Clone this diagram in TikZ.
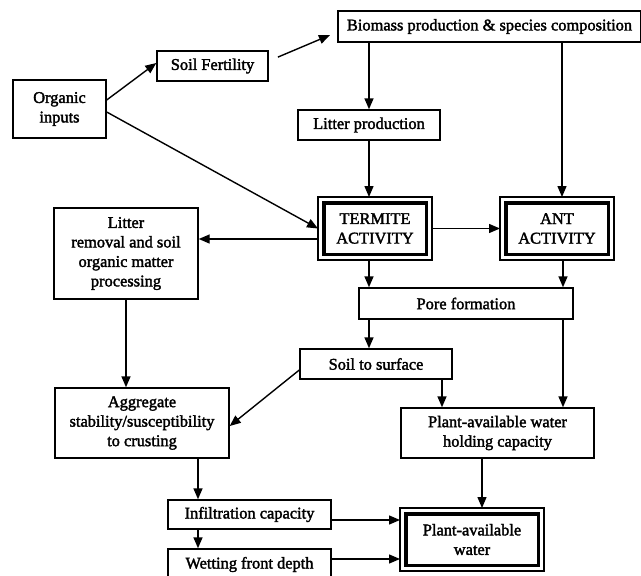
\documentclass[tikz,border=0pt]{standalone}
\usepackage{fontspec}
\setmainfont{Liberation Serif}
\newfontfamily\boxfont{Liberation Serif}[FakeBold=2]
\usetikzlibrary{arrows.meta}

\tikzset{
  box/.style={draw, line width=1.4pt, inner sep=0pt, align=center,
    font=\boxfont\fontsize{16.4}{19.5}\selectfont},
  keybox/.style={box, line width=3.5pt},
}

\begin{document}
\begin{tikzpicture}[x=1pt, y=-1pt, >={Triangle[length=11pt,width=9pt]}, line width=1.4pt]
    \useasboundingbox (0,0) rectangle (641,576);

    % Hộp phía trên
    \node[box, minimum width=93pt, minimum height=58pt] (organic) at (59.5,109) {Organic\\inputs};
    \node[box, minimum width=111pt, minimum height=30pt] (fert) at (212.5,66) {Soil Fertility};
    \node[box, minimum width=303pt, minimum height=31pt] (biomass) at (489.5,26.5) {Biomass production \& species composition};
    \node[box, minimum width=142pt, minimum height=30pt] (litprod) at (369,125) {Litter production};

    % Hoạt động của mối và kiến
    \node[keybox, minimum width=102.5pt, minimum height=51.5pt] (termite) at (375,228.5) {TERMITE\\ACTIVITY};
    \node[keybox, minimum width=102.5pt, minimum height=51.5pt] (ant) at (557,228.5) {ANT\\ACTIVITY};
    \node[box, minimum width=144pt, minimum height=91pt] (litrem) at (126,253.5) {Litter\\removal and soil\\organic matter\\processing};

    % Hộp ở giữa
    \node[box, minimum width=214pt, minimum height=31pt] (pore) at (466,303.5) {Pore formation};
    \node[box, minimum width=152pt, minimum height=30pt] (surface) at (376,364) {Soil to surface};
    \node[box, minimum width=174pt, minimum height=70pt] (aggr) at (142,423) {Aggregate\\stability/susceptibility\\to crusting};
    \node[box, minimum width=193pt, minimum height=50pt] (pawhc) at (497.5,433) {Plant-available water\\holding capacity};

    % Hộp phía dưới
    \node[box, minimum width=163pt, minimum height=29pt] (infil) at (249.5,514.5) {Infiltration capacity};
    \node[box, minimum width=163pt, minimum height=31pt] (wet) at (249.5,564.5) {Wetting front depth};
    \node[keybox, minimum width=132.5pt, minimum height=51.5pt] (water) at (472,539.5) {Plant-available\\water};

    % Viền ngoài của hộp đôi
    \foreach \n in {termite, ant, water}
        \draw[line width=1.5pt] ([shift={(-4,-4)}]\n.north west) rectangle ([shift={(4,4)}]\n.south east);

    % Mũi tên
    \draw[->] ([yshift=9]organic.east) -- ([yshift=3]fert.west);
    \draw[->, shorten <=10pt, shorten >=8pt] ([yshift=5]fert.east) -- ([yshift=-5.5]biomass.west);
    \draw[->] ([yshift=-3]organic.east) -- ([xshift=-4]termite.west);
    \draw[->] (biomass.south -| litprod.north) -- (litprod.north);
    \draw[->] ([xshift=5]biomass.south -| ant.north) -- ([xshift=5,yshift=4]ant.north);
    \draw[->] (litprod.south) -- ([yshift=4]litprod.south |- termite.north);
    \draw[->] ([xshift=4]termite.east) -- ([xshift=-4]ant.west);
    \draw[->] ([xshift=-4,yshift=-10.5]termite.west) -- ([yshift=-10.5]termite.west -| litrem.east);
    \draw[->] ([yshift=-4]termite.south -| litprod) -- (pore.north -| litprod);
    \draw[->] ([xshift=6,yshift=-4]ant.south) -- ([xshift=6]ant.south |- pore.north);
    \draw[->] (pore.south -| litprod) -- (surface.north -| litprod);
    \draw[->] ([xshift=97]pore.south) -- ([xshift=97]pore.south |- pawhc.north);
    \draw[->] ([xshift=66]surface.south) -- ([xshift=66]surface.south |- pawhc.north);
    \draw[->] ([yshift=-6]surface.west) -- ([yshift=-3]aggr.east);
    \draw[->] (litrem.south) -- (litrem.south |- aggr.north);
    \draw[->] ([xshift=-15.5]pawhc.south) -- ([xshift=-15.5,yshift=4]pawhc.south |- water.north);
    \draw[->] ([xshift=56]aggr.south) -- ([xshift=56]aggr.south |- infil.north);
    \draw[->] ([xshift=-51.5]infil.south) -- ([xshift=-51.5]infil.south |- wet.north);
    \draw[->] ([yshift=-5.5]infil.east) -- ([xshift=-4,yshift=-5.5]infil.east -| water.west);
    \draw[->] ([yshift=5.5]wet.east) -- ([xshift=-4,yshift=5.5]wet.east -| water.west);
\end{tikzpicture}
\end{document}
